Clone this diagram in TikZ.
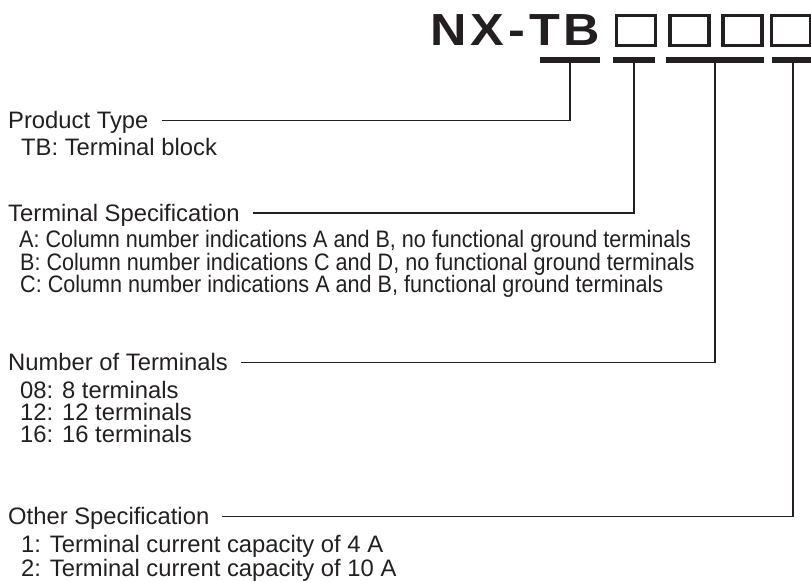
\documentclass[tikz,border=0pt]{standalone}
\usepackage{fontspec}
\setmainfont{Liberation Sans}
\newfontfamily\titlefont[FakeStretch=1.12,LetterSpace=9]{Liberation Sans}
\newfontfamily\narrowfont[FakeStretch=0.907]{Liberation Sans}
\definecolor{ink}{HTML}{231F20}

\begin{document}
\begin{tikzpicture}[x=1pt,y=-1pt,
    every node/.style={inner sep=0pt,text=ink},
    heading/.style={anchor=base west,font=\fontsize{23.8}{26}\selectfont,text height=16pt,text depth=0pt},
    item/.style={anchor=base west,font=\fontsize{23.8}{26}\selectfont},
    longitem/.style={anchor=base west,font=\narrowfont\fontsize{23.8}{26}\selectfont},
    bar/.style={fill=ink,minimum height=5.5pt},
    slot/.style={draw=ink,line width=3.3pt,minimum width=39pt,minimum height=30pt},
    leader/.style={draw=ink,line width=1.4pt}]
  \useasboundingbox (0,0) rectangle (811,581);

  % Model code
  \node[anchor=base west,font=\titlefont\bfseries\fontsize{45}{45}\selectfont] (code) at (430,45) {NX-TB};
  \node[slot] (slotA) at (636,30.5) {};
  \node[slot] (slotB) at (689.5,30.5) {};
  \node[slot] (slotC) at (742.5,30.5) {};
  \node[slot] (slotD) at (791,30.5) {};

  % Bars under the code
  \node[bar,minimum width=60pt] (tbbar) at (570,60) {};
  \node[bar,minimum width=42pt] (specbar) at (634,60) {};
  \node[bar,minimum width=98pt] (numbar) at (715,60) {};
  \node[bar,minimum width=42pt] (othbar) at (793,60) {};

  % Product type
  \node[heading] (prodtype) at (8,128.5) {Product Type};
  \node[item] (tb) at (21,155.5) {TB: Terminal block};

  % Terminal specification
  \node[heading] (termspec) at (8,221) {Terminal Specification};
  \node[longitem] (specA) at (19,247.5) {A: Column number indications A and B, no functional ground terminals};
  \node[longitem] (specB) at (20,270) {B: Column number indications C and D, no functional ground terminals};
  \node[longitem] (specC) at (20,292.5) {C: Column number indications A and B, functional ground terminals};

  % Number of terminals
  \node[heading] (numterm) at (8,370.5) {Number of Terminals};
  \node[item] (n08) at (20,398) {08: 8 terminals};
  \node[item] (n12) at (20,420) {12: 12 terminals};
  \node[item] (n16) at (20,442.5) {16: 16 terminals};

  % Other specification
  \node[heading] (othspec) at (8,524.5) {Other Specification};
  \node[item] (cap4) at (21,552) {1: Terminal current capacity of 4 A};
  \node[item] (cap10) at (21,576) {2: Terminal current capacity of 10 A};

  % Leader lines
  \draw[leader] ([xshift=13pt]prodtype.east) -| (tbbar.south);
  \draw[leader] ([xshift=13pt]termspec.east) -| (specbar.south);
  \draw[leader] ([xshift=13pt]numterm.east) -| (numbar.south);
  \draw[leader] ([xshift=13pt]othspec.east) -| (othbar.south);

\end{tikzpicture}
\end{document}
